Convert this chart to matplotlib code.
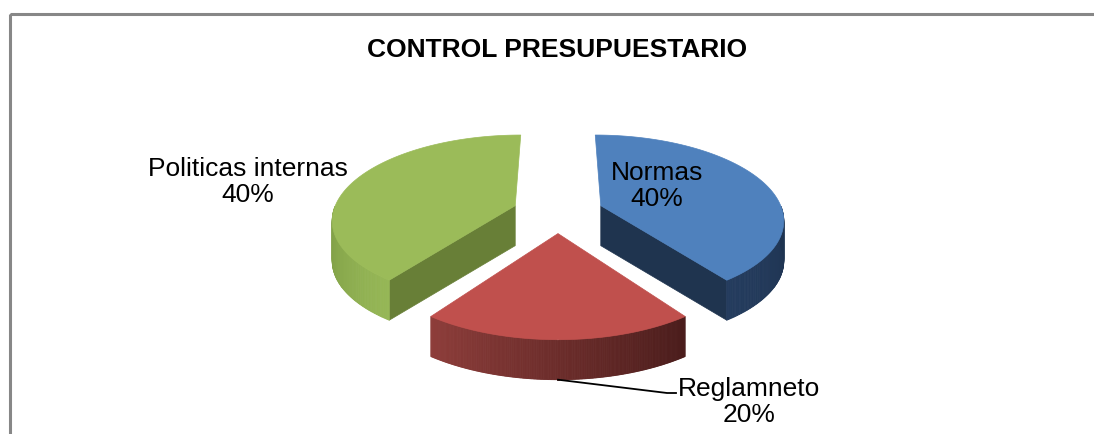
import numpy as np
import matplotlib.pyplot as plt
from matplotlib.patches import Polygon, Rectangle
from matplotlib.colors import to_rgb

plt.rcParams['font.family'] = ['Liberation Sans', 'DejaVu Sans']

# data
title = "CONTROL PRESUPUESTARIO"
labels = ["Normas", "Reglamneto", "Politicas internas"]
values = [40, 20, 40]

# colours: top face, outer side (light -> dark), cut face
top_colors = ["#4F81BD", "#C0504D", "#9BBB59"]
side_colors = [("#243C5E", "#1E3350"), ("#8E3D3A", "#4A1C1B"), ("#96B756", "#7B9A43")]
cut_colors = ["#1F344F", "#6E2A28", "#687F37"]

W, H = 1094, 434
cx, cy = 558, 212        # pie centre (pixels)
rx, ry = 182, 83         # ellipse radii
k = 0.15                 # perspective strength
thick = 40               # pie height in px
explode = 0.25


def proj(X, Y, z=0.0):
    p = 1.0 / (1.0 + k * Y)
    return cx + rx * X * p, cy - ry * Y * p + z


def mix(c1, c2, f):
    a, b = np.array(to_rgb(c1)), np.array(to_rgb(c2))
    return tuple(a + (b - a) * f)


fig = plt.figure(figsize=(W / 100, H / 100), dpi=100)
ax = fig.add_axes([0, 0, 1, 1])
ax.set_xlim(0, W)
ax.set_ylim(H, 0)
ax.axis('off')

total = sum(values)
slices = []
start = 90.0
for i, v in enumerate(values):
    span = v / total * 360
    a_hi = start
    a_lo = start - span
    start = a_lo
    mid = np.radians((a_lo + a_hi) / 2)
    slices.append((i, np.radians(a_lo), np.radians(a_hi), explode * np.cos(mid), explode * np.sin(mid)))

# back slices first
slices.sort(key=lambda s: -s[4])

for i, lo, hi, ox, oy in slices:
    ts = np.linspace(lo, hi, 200)

    # cut faces that face the viewer
    for a, vis in ((lo, np.cos(lo) > 1e-6), (hi, np.cos(hi) < -1e-6)):
        if vis:
            p0 = proj(ox, oy)
            p1 = proj(ox + np.cos(a), oy + np.sin(a))
            quad = [p0, p1, (p1[0], p1[1] + thick), (p0[0], p0[1] + thick)]
            ax.add_patch(Polygon(quad, closed=True, fc=cut_colors[i], ec=cut_colors[i], lw=0.5))

    # outer side (front half only), shaded across its width
    front = ts[np.sin(ts) < 0]
    if len(front) > 1:
        f0, f1 = front[0], front[-1]
        for t0, t1 in zip(front[:-1], front[1:]):
            q0 = proj(ox + np.cos(t0), oy + np.sin(t0))
            q1 = proj(ox + np.cos(t1), oy + np.sin(t1))
            frac = (f1 - (t0 + t1) / 2) / (f1 - f0) if f1 > f0 else 0
            col = mix(side_colors[i][0], side_colors[i][1], 1 - frac if i != 2 else frac)
            quad = [q0, q1, (q1[0], q1[1] + thick), (q0[0], q0[1] + thick)]
            ax.add_patch(Polygon(quad, closed=True, fc=col, ec=col, lw=0.6))

    # top face
    pts = [proj(ox, oy)] + [proj(ox + np.cos(t), oy + np.sin(t)) for t in ts]
    ax.add_patch(Polygon(pts, closed=True, fc=top_colors[i], ec=top_colors[i], lw=0.5))

# chart border (runs off the right and bottom edge)
ax.add_patch(Rectangle((9.5, 13.5), 1300, 600, fill=False, ec='#878787', lw=2.2))

ax.text(557, 50, title, ha='center', va='center', fontsize=19, fontweight='bold')

pct = [f"{v / total * 100:.0f}%" for v in values]
ax.text(657, 186, f"{labels[0]}\n{pct[0]}", ha='center', va='center', fontsize=19, linespacing=1.1)
ax.text(248, 182, f"{labels[2]}\n{pct[2]}", ha='center', va='center', fontsize=19, linespacing=1.1)
ax.text(749, 402, f"{labels[1]}\n{pct[1]}", ha='center', va='center', fontsize=19, linespacing=1.1)

# leader line for the small slice
red = [s for s in slices if s[0] == 1][0]
mid = (red[1] + red[2]) / 2
lx, ly = proj(red[3] + np.cos(mid), red[4] + np.sin(mid), thick)
ax.plot([lx, 667, 676], [ly, 393, 393], color='black', lw=1.3)

fig.savefig('out.png', dpi=100)
